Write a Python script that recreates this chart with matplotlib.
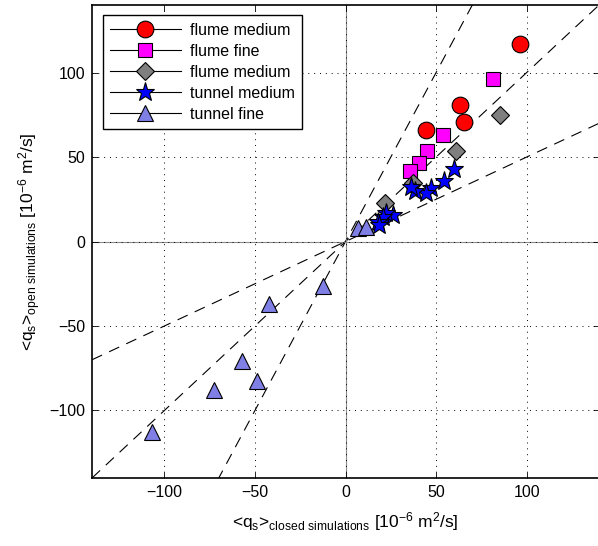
import numpy as np
import matplotlib
matplotlib.use("Agg")
import matplotlib.pyplot as plt

plt.rcParams['font.family'] = ['Liberation Sans', 'DejaVu Sans']
plt.rcParams['mathtext.default'] = 'regular'

# data (units of 1e-6 m^2/s)
flume_medium_x = [96.5, 63.1, 65.4, 44.2]
flume_medium_y = [116.9, 80.6, 71.0, 66.3]

flume_fine_x = [81.4, 53.8, 45.1, 40.7, 35.7]
flume_fine_y = [96.1, 63.2, 53.5, 46.7, 41.8]

flume_medium2_x = [85.2, 60.9, 37.3, 21.7]
flume_medium2_y = [75.1, 53.8, 34.5, 22.9]

tunnel_medium_x = [60.0, 54.1, 47.0, 44.4, 38.3, 35.9, 26.3, 22.6, 20.8, 18.0, 18.6]
tunnel_medium_y = [43.2, 36.1, 31.4, 29.0, 30.2, 32.4, 15.9, 17.1, 14.7, 11.8, 9.8]

tunnel_fine_x = [7.0, 11.2, -12.4, -42.0, -56.9, -49.0, -72.4, -107.0]
tunnel_fine_y = [7.9, 8.5, -26.5, -36.8, -70.6, -82.7, -87.8, -113.0]

ref_slopes = [2.0, 1.0, 0.5]
ticks = [-100, -50, 0, 50, 100]
tick_labels = ['\u2212100', '\u221250', '0', '50', '100']

fig = plt.figure(figsize=(5.98, 5.46), dpi=100)
ax = fig.add_axes([0.1538, 0.1245, 0.848, 0.8663])

xx = np.array([-140, 140])
for s in ref_slopes:
    ax.plot(xx, s * xx, color='k', lw=0.8, ls=(0, (10, 7)), zorder=1)

ax.axhline(0, color='0.55', lw=0.8, zorder=1)
ax.axvline(0, color='0.55', lw=0.8, zorder=1)

kw = dict(color='k', lw=0.8, markeredgecolor='k', markeredgewidth=0.8, ls='none')
ax.plot(flume_medium_x, flume_medium_y, marker='o', markersize=12,
        markerfacecolor='#ff0000', label='flume medium', **kw)
ax.plot(flume_fine_x, flume_fine_y, marker='s', markersize=10,
        markerfacecolor='#ff00ff', label='flume fine', **kw)
ax.plot(flume_medium2_x, flume_medium2_y, marker='D', markersize=9,
        markerfacecolor='#7f7f7f', label='flume medium', **kw)
ax.plot(tunnel_medium_x, tunnel_medium_y, marker='*', markersize=14,
        markerfacecolor='#0000ff', label='tunnel medium', **kw)
ax.plot(tunnel_fine_x, tunnel_fine_y, marker='^', markersize=12,
        markerfacecolor='#7f7fe6', label='tunnel fine', **kw)

ax.set_xlim(-140, 140)
ax.set_ylim(-140, 140)
ax.set_xticks(ticks)
ax.set_yticks(ticks)
ax.set_xticklabels(tick_labels)
ax.set_yticklabels(tick_labels)
ax.tick_params(direction='in', top=True, right=True, labelsize=11.5, length=4, width=0.6, pad=5)
ax.grid(True, ls=(0, (1, 5)), color='k', lw=0.7)
for sp in ax.spines.values():
    sp.set_linewidth(1.2)

ax.set_xlabel(r'<q$_s$>$_{closed\ simulations}$ [10$^{-6}$ m$^2$/s]', fontsize=12.5, labelpad=7)
ax.set_ylabel(r'<q$_s$>$_{open\ simulations}$ [10$^{-6}$ m$^2$/s]', fontsize=12.5, labelpad=4)

leg = ax.legend(loc='upper left', fontsize=11.5, frameon=True, fancybox=False,
                edgecolor='k', framealpha=1, handlelength=4.4, borderpad=0.45,
                labelspacing=0.38, handletextpad=0.6, borderaxespad=0,
                bbox_to_anchor=(0.022, 0.978))
leg.get_frame().set_linewidth(1.0)
for h in leg.get_lines():
    h.set_linestyle('-')

fig.savefig('out.png', dpi=100)
